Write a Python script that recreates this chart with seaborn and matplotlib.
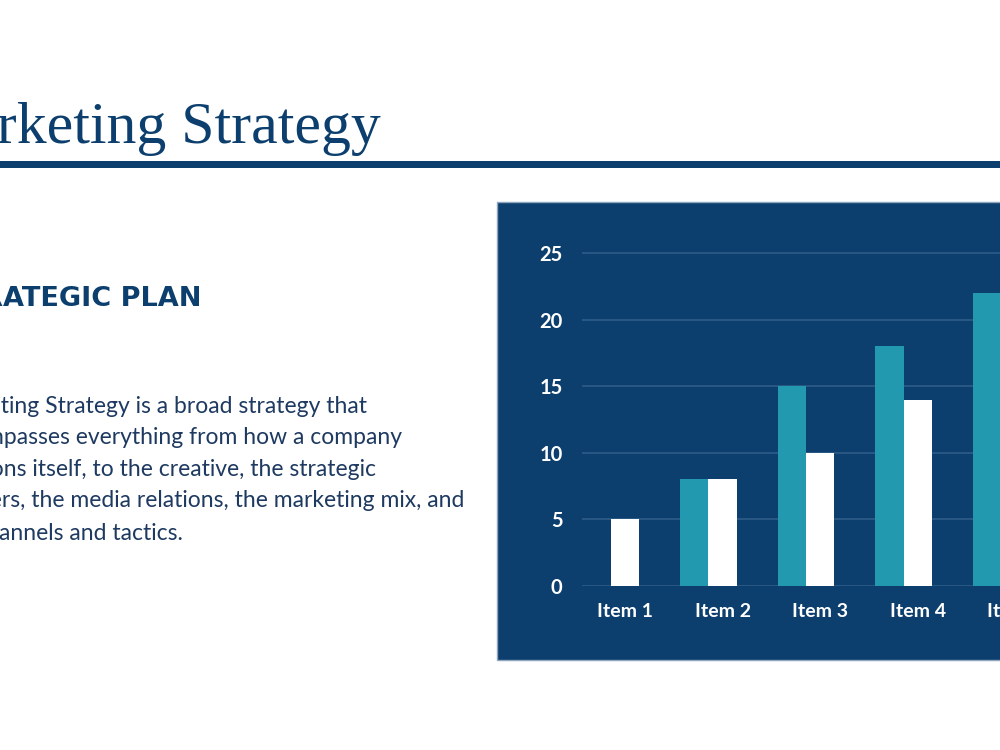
import matplotlib
matplotlib.use("Agg")
import matplotlib.pyplot as plt
from matplotlib.patches import Rectangle
import seaborn as sns
import pandas as pd

# ---- data ----
categories = ["Item 1", "Item 2", "Item 3", "Item 4", "Item 5"]
series_names = ["Series 1", "Series 2", "Series 3"]
series1 = [0, 8, 15, 18, 22]
series2 = [5, 8, 10, 14, 17]
series3 = [0, 0, 0, 0, 0]
yticks = [0, 5, 10, 15, 20, 25]

title = "Marketing Strategy"
heading = "STRATEGIC PLAN"
para_lines = [
    "Marketing Strategy is a broad strategy that",
    "encompasses everything from how a company",
    "positions itself, to the creative, the strategic",
    "partners, the media relations, the marketing mix, and",
    "the channels and tactics.",
]

NAVY = "#0C3F6E"
TEAL = "#2299AF"
TEXT = "#1E3A61"
GRID = "#2C5A87"

sns.set_theme(style="white")
plt.rcParams["font.family"] = ["Lato", "DejaVu Sans"]

W, H = 1000, 750
fig = plt.figure(figsize=(10, 7.5), dpi=100)
fig.patch.set_facecolor("white")

def fx(x):
    return x / W

def fy(y):
    return 1 - y / H

renderer = fig.canvas.get_renderer()

# title + rule
fig.text(fx(381), fy(143), title, ha="right", va="baseline", fontsize=43,
         family=["Liberation Serif", "DejaVu Serif"], color=NAVY)
fig.add_artist(Rectangle((0, fy(168)), 1.0, 7 / H, transform=fig.transFigure,
                         facecolor=NAVY, edgecolor="none", zorder=2))

# heading
fig.text(fx(201), fy(306), heading, ha="right", va="baseline", fontsize=19.5,
         family=["DejaVu Sans"], weight="bold", color=NAVY)

# paragraph: left aligned at a common x, size fitted to the longest line
para_x0 = -64
baselines = [413, 444, 476, 507, 540]
para_texts = [fig.text(fx(para_x0), fy(yb), txt, ha="left", va="baseline",
                       fontsize=15, color=TEXT)
              for txt, yb in zip(para_lines, baselines)]
target_w = 466 - para_x0
cur_w = para_texts[3].get_window_extent(renderer).width
new_size = 15 * target_w / cur_w
for t in para_texts:
    t.set_fontsize(new_size)

# chart panel
fig.add_artist(Rectangle((fx(497), fy(660)), 0.6, (660 - 202) / H,
                         transform=fig.transFigure, facecolor=NAVY,
                         edgecolor="#8FA6BF", linewidth=1.0, zorder=-1))

# axes placement
px_per_unit_y = (586 - 253) / 25.0
ymax = 27.0
ax_top = 586 - ymax * px_per_unit_y
ax_left, ax_right = 582, 1150
px_per_cat = 97.6
x0 = -(625 - ax_left) / px_per_cat
x1 = x0 + (ax_right - ax_left) / px_per_cat
ax = fig.add_axes([fx(ax_left), fy(586), (ax_right - ax_left) / W, (586 - ax_top) / H])
ax.set_facecolor("none")

n = len(categories)
df = pd.DataFrame({
    "item": categories * 3,
    "series": [series_names[0]] * n + [series_names[1]] * n + [series_names[2]] * n,
    "value": series1 + series2 + series3,
})
sns.barplot(data=df, x="item", y="value", hue="series", order=categories,
            hue_order=series_names, palette=[TEAL, "white", "#5FB3C9"], saturation=1,
            width=0.875, gap=0, legend=False, linewidth=0, ax=ax, zorder=3)

ax.set_xlim(x0, x1)
ax.set_ylim(0, ymax)
ax.set_yticks(yticks)
ax.yaxis.grid(True, color=GRID, linewidth=1.3)
ax.xaxis.grid(False)
ax.set_axisbelow(True)
for s in ax.spines.values():
    s.set_visible(False)
ax.set_xlabel("")
ax.set_ylabel("")
ax.tick_params(axis="y", length=0, pad=14, labelsize=14.5, labelcolor="white")
ax.tick_params(axis="x", length=0, pad=12, labelsize=14, labelcolor="white")
for lab in ax.get_xticklabels() + ax.get_yticklabels():
    lab.set_fontweight("bold")

fig.savefig("out.png", dpi=100, facecolor="white")
